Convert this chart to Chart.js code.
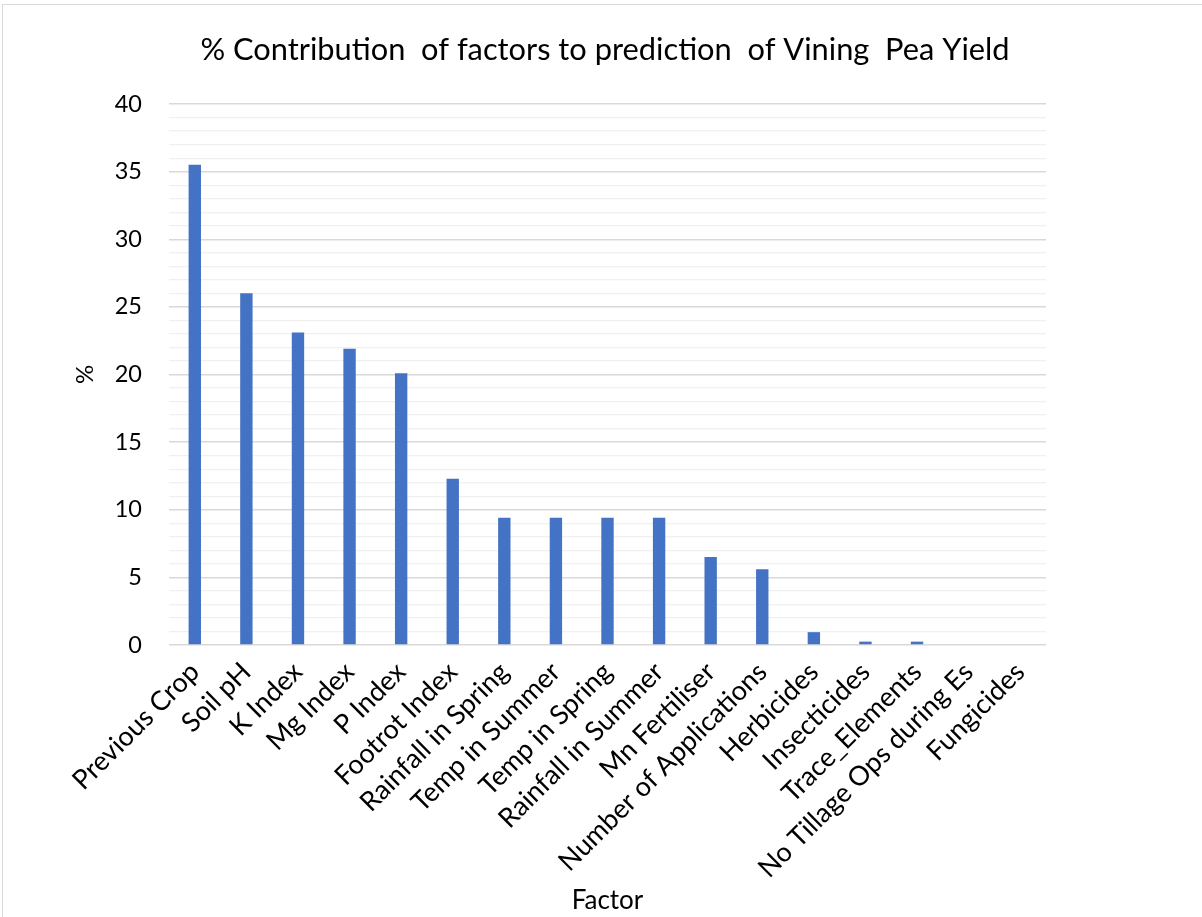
<!DOCTYPE html>
<html>
<head>
<meta charset="utf-8">
<script src="https://cdn.jsdelivr.net/npm/chart.js@4/dist/chart.umd.min.js"></script>
<style>
  html, body { margin: 0; padding: 0; background: #ffffff; overflow: hidden; }
  #wrap { width: 1202px; height: 917px; }
</style>
</head>
<body>
<div id="wrap"><canvas id="c" width="1202" height="917"></canvas></div>
<script>
// Factors and their % contribution to the yield prediction
const factors = [
  'Previous Crop', 'Soil pH', 'K Index', 'Mg Index', 'P Index', 'Footrot Index',
  'Rainfall in Spring', 'Temp in Summer', 'Temp in Spring', 'Rainfall in Summer',
  'Mn Fertiliser', 'Number of Applications', 'Herbicides', 'Insecticides',
  'Trace_Elements', 'No Tillage Ops during Es', 'Fungicides'
];
const contribution = [35.5, 26, 23.1, 21.9, 20.1, 12.3, 9.4, 9.4, 9.4, 9.4, 6.5, 5.6, 0.95, 0.25, 0.25, 0, 0];

const yMin = 0;
const yMax = 40;
const yMajorStep = 5;
const yMinorStep = 1;

const chartTitle = '% Contribution  of factors to prediction  of Vining  Pea Yield';
const xAxisTitle = 'Factor';
const yAxisTitle = '%';

const FONT = 'Lato, "Open Sans", sans-serif';

// White background, light frame, and the chart title centred on the page
const framePlugin = {
  id: 'frame',
  beforeDraw(chart) {
    const ctx = chart.ctx;
    ctx.save();
    ctx.fillStyle = '#ffffff';
    ctx.fillRect(0, 0, chart.width, chart.height);
    ctx.strokeStyle = '#D9D9D9';
    ctx.lineWidth = 1;
    ctx.strokeRect(2.5, 4.5, chart.width + 20, chart.height + 20);
    ctx.fillStyle = '#000000';
    ctx.font = '30.8px ' + FONT;
    ctx.textAlign = 'center';
    ctx.textBaseline = 'middle';
    ctx.fillText(chartTitle, 605, 50);
    ctx.restore();
  }
};

new Chart(document.getElementById('c'), {
  type: 'bar',
  data: {
    labels: factors,
    datasets: [{
      label: '%',
      data: contribution,
      backgroundColor: '#4472C4',
      borderWidth: 0,
      barPercentage: 0.24,
      categoryPercentage: 1
    }]
  },
  plugins: [framePlugin],
  options: {
    responsive: false,
    animation: false,
    layout: { padding: { left: 69, right: 156, top: 104, bottom: 0 } },
    plugins: {
      legend: { display: false },
      tooltip: { enabled: false },
      title: { display: false }
    },
    scales: {
      x: {
        grid: { display: false },
        border: { display: false },
        ticks: {
          autoSkip: false,
          maxRotation: 45,
          minRotation: 45,
          padding: 3,
          color: '#000000',
          font: { family: FONT, size: 27 }
        },
        title: {
          display: true,
          text: xAxisTitle,
          color: '#000000',
          font: { family: FONT, size: 26 },
          padding: { top: 4, bottom: 1 }
        },
        afterFit(scale) { scale.height = 272; }
      },
      y: {
        min: yMin,
        max: yMax,
        border: { display: false },
        grid: {
          drawTicks: false,
          color: (c) => (c.tick && c.tick.value % yMajorStep === 0) ? '#D9D9D9' : '#F0F0F0',
          lineWidth: (c) => (c.tick && c.tick.value % yMajorStep === 0) ? 1.5 : 1.2
        },
        ticks: {
          stepSize: yMinorStep,
          autoSkip: false,
          padding: 27,
          color: '#000000',
          font: { family: FONT, size: 23.5 },
          callback: (v) => (v % yMajorStep === 0 ? String(v) : '')
        },
        title: {
          display: true,
          text: yAxisTitle,
          color: '#000000',
          font: { family: FONT, size: 24 },
          padding: { top: 2, bottom: 4 }
        },
        afterFit(scale) { scale.width = 100; }
      }
    }
  }
});
</script>
</body>
</html>
